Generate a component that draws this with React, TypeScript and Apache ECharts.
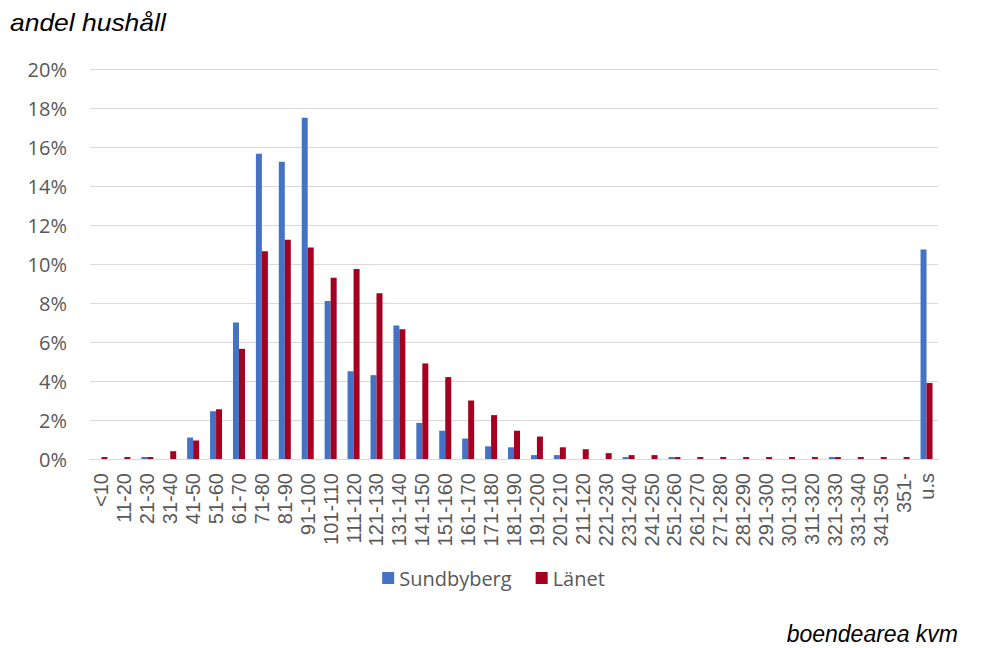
import React, { useEffect, useRef } from "react";
import * as echarts from "echarts";

const categories = ["<10","11-20","21-30","31-40","41-50","51-60","61-70","71-80","81-90","91-100","101-110","111-120","121-130","131-140","141-150","151-160","161-170","171-180","181-190","191-200","201-210","211-120","221-230","231-240","241-250","251-260","261-270","271-280","281-290","291-300","301-310","311-320","321-330","331-340","341-350","351-","u.s"];
const sundbyberg = [0,0,0.1,0,1.1,2.45,7.0,15.65,15.25,17.5,8.1,4.5,4.3,6.85,1.85,1.45,1.05,0.65,0.6,0.2,0.2,0,0,0.1,0,0.1,0,0,0,0,0,0,0.1,0,0,0,10.75];
const lanet = [0.1,0.1,0.1,0.4,0.95,2.55,5.65,10.65,11.25,10.85,9.3,9.75,8.5,6.65,4.9,4.2,3.0,2.25,1.45,1.15,0.6,0.5,0.3,0.2,0.2,0.1,0.1,0.1,0.1,0.1,0.1,0.1,0.1,0.1,0.1,0.1,3.9];
const seriesNames = ["Sundbyberg", "Länet"];
const yAxisTitle = "andel hushåll";
const xAxisTitle = "boendearea kvm";

export default function App() {
  const ref = useRef<HTMLDivElement>(null);
  useEffect(() => {
    if (!ref.current) return;
    const chart = echarts.init(ref.current, null, { renderer: "svg" });
    chart.setOption({
      animation: false,
      backgroundColor: "#ffffff",
      grid: { left: 90, right: 49, top: 69, bottom: 189, containLabel: false },
      legend: {
        data: seriesNames,
        left: "center",
        top: 563,
        itemWidth: 12,
        itemHeight: 12,
        itemGap: 24,
        icon: "rect",
        textStyle: { fontFamily: "Open Sans", fontSize: 20, color: "#595959" },
      },
      xAxis: {
        type: "category",
        data: categories,
        axisLine: { lineStyle: { color: "#d9d9d9", width: 1 } },
        axisTick: { show: false },
        axisLabel: {
          rotate: 90,
          interval: 0,
          margin: 14,
          fontFamily: "'Liberation Sans Narrow', 'Liberation Sans'",
          fontSize: 20,
          color: "#595959",
        },
      },
      yAxis: {
        type: "value",
        min: 0,
        max: 20,
        interval: 2,
        axisLine: { show: false },
        axisTick: { show: false },
        splitLine: { lineStyle: { color: "#d9d9d9", width: 1 } },
        axisLabel: {
          formatter: "{value}%",
          margin: 23,
          fontFamily: "Open Sans",
          fontSize: 20,
          color: "#595959",
        },
      },
      series: [
        {
          name: seriesNames[0],
          type: "bar",
          data: sundbyberg,
          barWidth: 6,
          barGap: "0%",
          itemStyle: { color: "#4472C4" },
        },
        {
          name: seriesNames[1],
          type: "bar",
          data: lanet,
          barWidth: 6,
          barGap: "0%",
          itemStyle: { color: "#A50021" },
        },
      ],
      graphic: [
        {
          type: "text",
          x: 10,
          y: 12,
          scaleX: 1.15,
          style: {
            text: yAxisTitle,
            font: "italic 23px 'Liberation Sans'",
            fill: "#000000",
            verticalAlign: "top",
            align: "left",
          },
        },
        {
          type: "text",
          x: 958,
          y: 622,
          style: {
            text: xAxisTitle,
            font: "italic 23px 'Liberation Sans'",
            fill: "#000000",
            verticalAlign: "top",
            align: "right",
          },
        },
      ],
    });
    return () => chart.dispose();
  }, []);
  return (
    <div
      ref={ref}
      style={{ position: "fixed", left: 0, top: 0, width: 987, height: 648 }}
    />
  );
}
